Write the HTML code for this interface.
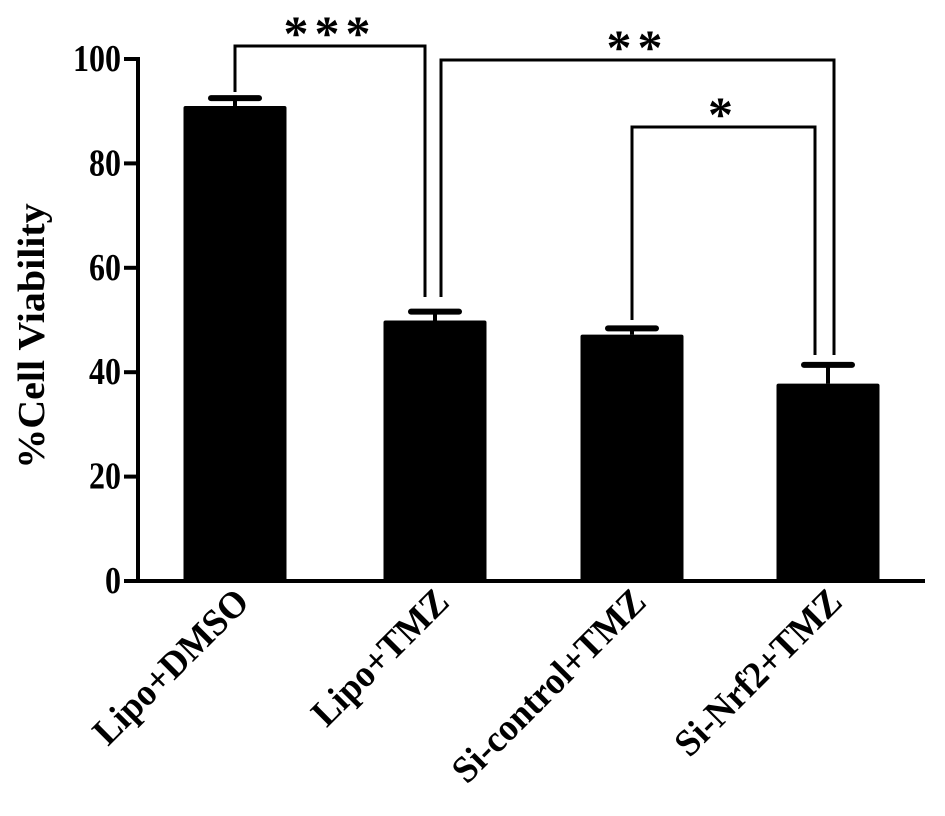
<!DOCTYPE html>
<html><head><meta charset="utf-8"><style>
body{margin:0;background:#fff}
svg{display:block}
text{font-family:"Liberation Serif",serif;font-weight:bold;fill:#000}
</style></head><body>
<svg id="chart" width="945" height="816">
<g id="g"></g>
</svg>
<script>
const categories=["Lipo+DMSO","Lipo+TMZ","Si-control+TMZ","Si-Nrf2+TMZ"];
const values=[91,49.9,47.2,37.8];
const errors=[1.5,1.7,1.2,3.6];
const yTicks=[0,20,40,60,80,100];
const sigLabels=["***","**","*"];
const NS="http://www.w3.org/2000/svg";
const g=document.getElementById('g');
const y0=581,y100=59,xL=138,xR=925;
function y(v){return y0-(y0-y100)*v/100;}
const centers=[235,435,632,828];
function x(i){return centers[i];}
const bw=103;
function mk(t,a,parent){const e=document.createElementNS(NS,t);for(const k in a)e.setAttribute(k,a[k]);(parent||g).appendChild(e);return e;}
let e=mk('line',{x1:xL,y1:y0,x2:xL,y2:y100-2,stroke:'#000','stroke-width':4});


e=mk('line',{x1:xL-2,y1:y0,x2:xR,y2:y0,stroke:'#000','stroke-width':4});


yTicks.forEach(t=>{
  let l=mk('line',{x1:124,y1:y(t),x2:xL,y2:y(t),stroke:'#000','stroke-width':4});
  
  
  let tx=mk('text',{x:0,y:0,'text-anchor':'end','font-size':32,transform:`translate(121,${y(t)+12}) scale(1,1.2)`});
  tx.textContent=t;
  
  
});
let yt=mk('text',{x:0,y:0,'text-anchor':'middle','font-size':32,transform:'translate(44,336) rotate(-90) scale(1.25,1.2)'});
yt.textContent='%Cell Viability';


categories.forEach((c,i)=>{
  const cx=x(i);
  let b=mk('rect',{x:cx-bw/2,y:y(values[i]),width:bw,height:y0-y(values[i]),fill:'#000',rx:2});
  
  
  const ey=y(values[i]+errors[i]);
  let l=mk('line',{x1:cx,y1:y(values[i]),x2:cx,y2:ey,stroke:'#000','stroke-width':4});
  
  
  let cap=mk('line',{x1:cx-24,y1:ey,x2:cx+24,y2:ey,stroke:'#000','stroke-width':6,'stroke-linecap':'round'});
  
  
  let t=mk('text',{x:0,y:0,'text-anchor':'end','font-size':33,transform:`translate(${cx+16},${604}) rotate(-45) scale(1.1,1.15)`});
  t.textContent=c;
  
  
});
function bracket(x1,x2,top,b1,b2,label,name){
  let p=mk('path',{d:`M${x1},${b1}V${top}H${x2}V${b2}`,fill:'none',stroke:'#000','stroke-width':3});
  
  
  let t=mk('text',{x:(x1+x2)/2,y:top+4,'text-anchor':'middle','font-size':50,'letter-spacing':6});
  t.textContent=label;
  
  
}
bracket(235,425,46,92,297,sigLabels[0],'sig-bracket-1');
bracket(441,834,60,297,355,sigLabels[1],'sig-bracket-2');
bracket(632,815,127,320,355,sigLabels[2],'sig-bracket-3');
</script>
</body></html>
